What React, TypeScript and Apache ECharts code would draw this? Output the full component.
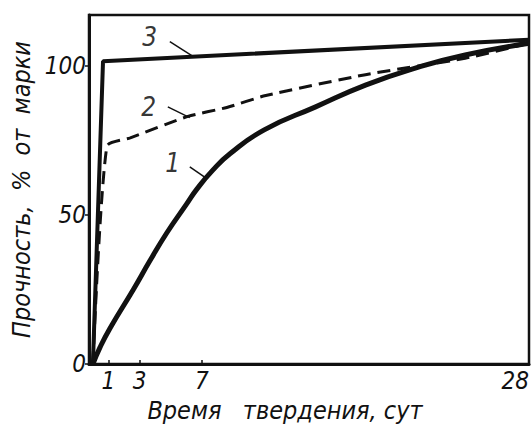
import React, { useEffect, useRef } from "react";
import * as echarts from "echarts";

// Curve 1 – normal hardening
const DAYS_1 = [0, 0.45, 1.1, 2.6, 3.65, 4.75, 6, 6.7, 7.7, 8.8, 11, 14.3, 17.5, 20.7, 23.9, 28];
const STRENGTH_1 = [0, 5.5, 12, 25, 34.5, 44, 53.5, 58.8, 65, 70.5, 78.5, 86.2, 93.5, 99.2, 103.6, 107.5];
// Curve 2 – dashed
const DAYS_2 = [0, 0.9, 2.4, 6.1, 8.6, 11.1, 17.5, 23.9, 28];
const STRENGTH_2 = [0, 73, 75.8, 83, 86, 90, 97, 102.5, 107.5];
// Curve 3
const DAYS_3 = [0, 0.65, 28];
const STRENGTH_3 = [0, 101.5, 108.7];

const X_TICKS = [1, 3, 7, 28];
const Y_TICKS = [0, 50, 100];

const CURVE_NAMES = ["1", "2", "3"];
const NAME_DAYS = [5.13, 3.59, 3.65];
const NAME_VALUES = [67.4, 86.2, 109.7];
const LEADER_FROM_DAYS = [6.22, 4.81, 4.94];
const LEADER_FROM_VALUES = [66.1, 86.2, 108.1];
const LEADER_TO_DAYS = [7.2, 6.22, 6.4];
const LEADER_TO_VALUES = [62.6, 82.6, 103.2];

const X_TITLE = "Время   твердения, сут";
const Y_TITLE = "Прочность,  %  от  марки";

const FONT = "'Liberation Sans Narrow', 'DejaVu Sans Condensed', 'Roboto Condensed', sans-serif";
const INK = "#111";

const pairs = (xs: number[], ys: number[]) => xs.map((x, i) => [x, ys[i]]);

export default function App() {
  const ref = useRef<HTMLDivElement>(null);
  useEffect(() => {
    if (!ref.current) return;
    const chart = echarts.init(ref.current, null, { renderer: "svg" });
    const leaderSeries = CURVE_NAMES.map((n, i) => ({
      type: "line",
      name: "leader" + n,
      data: [
        [LEADER_FROM_DAYS[i], LEADER_FROM_VALUES[i]],
        [LEADER_TO_DAYS[i], LEADER_TO_VALUES[i]],
      ],
      symbol: "none",
      lineStyle: { color: INK, width: 1.5 },
      silent: true,
    }));
    chart.setOption({
      animation: false,
      backgroundColor: "#fff",
      grid: {
        left: 89,
        right: 3,
        top: 15,
        bottom: 72,
        show: true,
        borderColor: INK,
        borderWidth: 2.5,
      },
      xAxis: {
        type: "value",
        min: -0.25,
        max: 28,
        name: X_TITLE,
        nameLocation: "middle",
        nameGap: 32,
        nameTextStyle: {
          fontFamily: FONT,
          fontStyle: "italic",
          fontSize: 25,
          color: INK,
          padding: [0, 48, 0, 0],
        },
        splitLine: { show: false },
        axisLine: { show: true, onZero: false, lineStyle: { color: INK, width: 3 } },
        axisTick: { show: true, customValues: X_TICKS, length: 4, inside: true, lineStyle: { color: INK, width: 1.5 } },
        axisLabel: {
          customValues: X_TICKS,
          fontFamily: FONT,
          fontStyle: "italic",
          fontSize: 24,
          color: INK,
          margin: 5,
          alignMaxLabel: "right",
        },
      },
      yAxis: {
        type: "value",
        min: 0,
        max: 117,
        name: Y_TITLE,
        nameLocation: "middle",
        nameRotate: 90,
        nameGap: 50,
        nameTextStyle: {
          fontFamily: FONT,
          fontStyle: "italic",
          fontSize: 25,
          color: INK,
        },
        splitLine: { show: false },
        axisLine: { show: true, onZero: false, lineStyle: { color: INK, width: 3 } },
        axisTick: { show: true, customValues: Y_TICKS, length: 4, lineStyle: { color: INK, width: 1.5 } },
        axisLabel: {
          customValues: Y_TICKS,
          fontFamily: FONT,
          fontStyle: "italic",
          fontSize: 24,
          color: INK,
          margin: 3,
        },
      },
      series: [
        {
          type: "line",
          name: "1",
          data: pairs(DAYS_1, STRENGTH_1),
          symbol: "none",
          smooth: 0.5,
          lineStyle: { color: INK, width: 5 },
        },
        {
          type: "line",
          name: "2",
          data: pairs(DAYS_2, STRENGTH_2),
          symbol: "none",
          smooth: 0.2,
          lineStyle: { color: INK, width: 3, type: [13, 7] },
        },
        {
          type: "line",
          name: "3",
          data: pairs(DAYS_3, STRENGTH_3),
          symbol: "none",
          lineStyle: { color: INK, width: 4 },
        },
        ...leaderSeries,
        {
          type: "scatter",
          name: "labels",
          data: CURVE_NAMES.map((n, i) => ({ value: [NAME_DAYS[i], NAME_VALUES[i]], name: n })),
          symbolSize: 0,
          silent: true,
          label: {
            show: true,
            position: "inside",
            formatter: (p: any) => p.name,
            fontFamily: FONT,
            fontStyle: "italic",
            fontSize: 26,
            color: "#000",
          },
        },
      ],
    });
    return () => chart.dispose();
  }, []);
  return (
    <div
      ref={ref}
      style={{ position: "fixed", left: 0, top: 0, width: 532, height: 436, background: "#fff" }}
    />
  );
}
